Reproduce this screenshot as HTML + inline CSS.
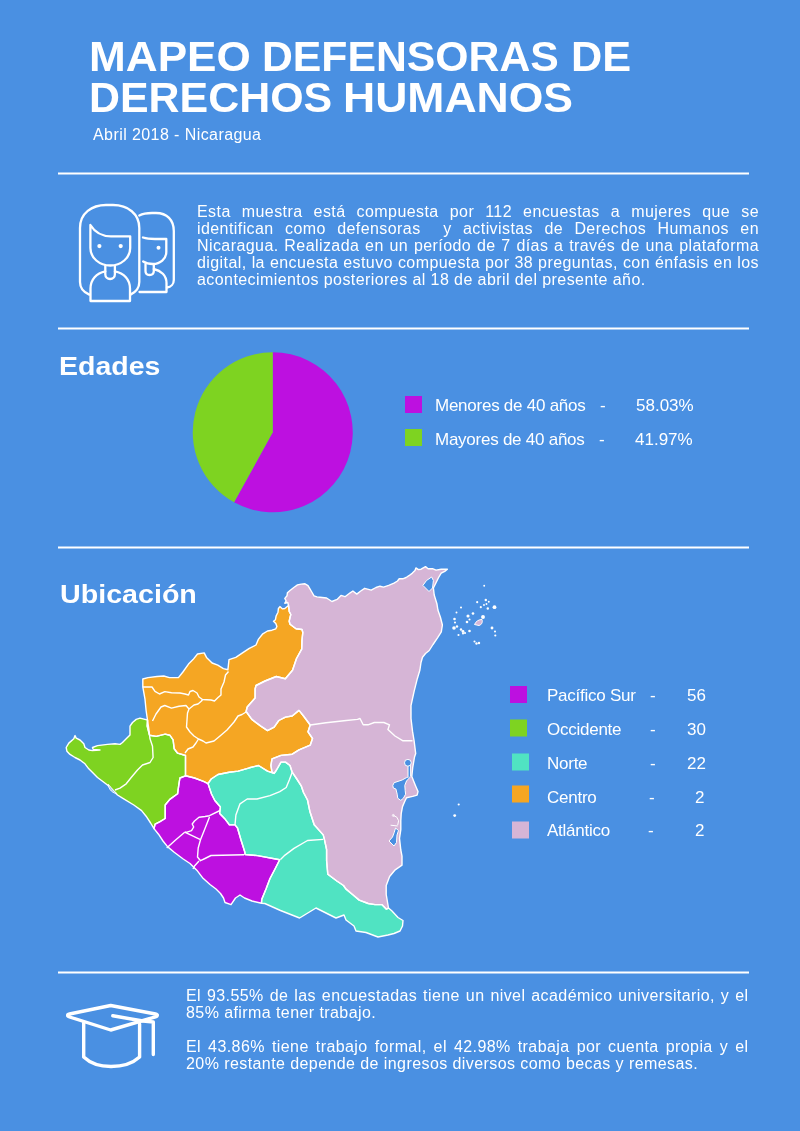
<!DOCTYPE html>
<html><head><meta charset="utf-8">
<style>
html,body{margin:0;padding:0;}
body{width:800px;height:1131px;background:#4A90E2;position:relative;overflow:hidden;font-family:"Liberation Sans",Arial,sans-serif;color:#fff;}
.abs{position:absolute;white-space:nowrap;will-change:transform;}
.title{font-weight:700;font-size:42.5px;line-height:42px;transform-origin:0 0;}
.sub{font-size:16px;letter-spacing:0.42px;}
.h2{font-weight:700;font-size:25.4px;line-height:28px;transform-origin:0 0;}
.para{position:absolute;will-change:transform;font-size:16px;letter-spacing:0.42px;line-height:16.9px;text-align:justify;white-space:normal;}
.lg{font-size:17px;line-height:20px;}
.lt{letter-spacing:-0.25px;}
svg{position:absolute;left:0;top:0;}
</style></head><body>
<svg width="800" height="1131" viewBox="0 0 800 1131">
<g stroke="#fff" stroke-width="2"><line x1="58" y1="173.5" x2="749" y2="173.5"/><line x1="58" y1="328.5" x2="749" y2="328.5"/><line x1="58" y1="547.5" x2="749" y2="547.5"/><line x1="58" y1="972.5" x2="749" y2="972.5"/></g>
<g fill="none" stroke="#fff" stroke-width="2.3" stroke-linecap="round" stroke-linejoin="round">
<path d="M89.3,294.6 C83,292 80,288 80,282 L80,228 C80,213 92,205 106,205 L113,205 C128,205 139.3,214 139.3,228 L139.3,282 C139.3,288 136,292 130.5,294.6"/>
<path d="M90.4,248 L90.4,225 C95,232.5 102,236.3 111,236.3 L130.2,236.3 L130.2,248 C130.2,258 121,265.5 110.3,265.5 C99.5,265.5 90.4,258 90.4,248 Z"/>
<path d="M105.3,266 L105.3,274.3 C105.3,277.3 107.5,279 110.1,279 C112.7,279 114.9,277.3 114.9,274.3 L114.9,266"/>
<path d="M105.3,271.3 C96.5,273 90.5,279.5 90.5,288.5 L90.5,301 L130,301 L130,288.5 C130,279.5 124,273 114.9,271.3"/>
<path d="M139.3,215.5 C143,213.5 147,213 152,213 L156,213 C167,213 173.8,220 173.8,231 L173.8,280 C173.8,284 171,287 167,287.5"/>
<path d="M143,237.5 C146,238.5 150,239 155,239 L166.3,239 L166.3,252 C166.3,259 160,264 153,264 C149,264 145.5,263 143.2,261.5"/>
<path d="M145.5,264.5 L145.5,271 C145.5,273.5 147,275 149.5,275 C152,275 153.8,273.5 153.8,271 L153.8,265"/>
<path d="M153.8,269 C161,270.5 166.5,275.5 166.5,283 L166.5,292 L139.5,292"/>
</g>
<g fill="#fff"><circle cx="99.4" cy="246.1" r="2.1"/><circle cx="120.7" cy="246.1" r="2.1"/><circle cx="158.5" cy="247.7" r="2"/></g>
<path d="M272.75,432.3 L272.75,352.3 A80,80 0 1,1 234.08,502.33 Z" fill="#BD10E0"/>
<path d="M272.75,432.3 L234.08,502.33 A80,80 0 0,1 272.75,352.3 Z" fill="#7ED321"/>
<g fill="#BD10E0"><rect x="405" y="396" width="17" height="17"/><rect x="510" y="686" width="17" height="17"/></g>
<rect x="405" y="429" width="17" height="17" fill="#7ED321"/>
<rect x="510" y="719.5" width="17" height="17" fill="#7ED321"/>
<rect x="512" y="753.5" width="17" height="17" fill="#50E3C2"/>
<rect x="512" y="785.5" width="17" height="17" fill="#F5A623"/>
<rect x="512" y="821.5" width="17" height="17" fill="#D6B5D6"/>
<polygon points="288.5,605.5 287.8,602.5 284.8,603.2 286.2,601.0 284.8,598.4 287.0,595.8 287.4,592.8 290.0,590.5 293.8,587.5 297.5,584.9 301.2,584.1 305.0,583.8 308.0,585.6 309.5,588.2 311.8,592.0 314.0,595.8 317.0,596.9 320.0,597.2 326.6,598.0 331.9,601.5 337.1,599.4 341.0,595.4 345.0,596.7 350.2,592.8 352.9,591.0 356.8,594.1 360.7,591.0 364.7,588.3 371.2,590.2 376.0,587.5 380.0,586.2 383.5,587.1 388.7,585.4 394.0,583.2 397.5,581.0 399.2,578.8 402.7,578.8 406.2,577.5 408.9,575.7 412.4,573.1 415.0,570.5 415.9,567.9 418.5,569.6 421.1,569.2 425.5,566.6 428.1,568.7 432.5,568.7 436.0,570.1 441.2,569.2 447.4,569.2 444.7,571.4 441.2,573.1 438.6,577.5 436.0,582.7 433.4,588.0 434.2,595.0 436.9,603.7 437.9,610.0 440.5,617.5 442.4,625.0 441.3,631.8 437.5,637.8 433.0,644.5 429.2,650.5 425.5,653.5 422.5,657.2 421.0,662.5 419.9,670.0 417.3,678.7 414.1,691.4 411.0,705.7 411.0,718.5 412.5,731.2 414.1,740.8 415.7,753.5 414.5,757.0 412.7,767.7 411.8,776.5 415.4,785.4 418.0,791.6 417.1,795.1 412.7,796.4 406.5,797.7 404.8,801.3 402.5,806.6 401.2,813.7 400.8,820.7 400.8,829.6 399.5,838.4 400.8,850.0 402.0,856.2 402.0,865.2 395.2,869.8 389.6,876.5 386.2,885.5 386.2,894.5 388.5,908.0 386.2,909.1 381.8,904.6 375.0,904.6 368.2,903.5 359.2,900.1 352.5,894.5 345.8,888.9 343.5,885.5 336.8,881.0 327.8,874.2 326.6,860.8 326.6,849.5 324.4,839.4 323.2,834.9 314.2,824.8 309.8,811.2 307.5,800.0 303.5,792.5 301.2,785.8 296.8,779.0 292.2,772.2 290.0,765.5 285.5,762.1 281.0,762.1 276.5,770.0 274.2,773.4 272.0,772.2 270.9,765.5 272.0,758.8 281.0,755.4 292.2,754.2 299.0,749.8 310.2,745.2 312.5,738.5 308.0,731.8 310.2,725.0 303.5,716.0 299.0,710.4 292.2,716.0 285.5,717.1 278.8,720.5 274.2,727.2 267.5,730.6 260.8,726.1 251.8,719.4 246.1,711.5 247.2,707.0 255.1,698.0 255.1,689.0 256.0,685.5 265.0,681.0 276.3,676.5 285.3,678.8 292.5,670.2 296.5,658.5 301.7,649.2 302.0,640.0 302.8,632.5 302.0,629.5 296.0,628.8 293.0,626.5 290.0,624.2 289.2,621.2 290.0,617.5 290.8,614.5 289.2,611.5 288.9,608.5" fill="#D6B5D6"/>
<polygon points="288.5,605.5 288.9,608.5 289.2,611.5 290.8,614.5 290.0,617.5 289.2,621.2 290.0,624.2 293.0,626.5 296.0,628.8 302.0,629.5 302.8,632.5 302.0,640.0 301.7,649.2 296.5,658.5 292.5,670.2 285.3,678.8 276.3,676.5 265.0,681.0 256.0,685.5 255.1,689.0 255.1,698.0 247.2,707.0 246.1,711.5 251.8,719.4 260.8,726.1 267.5,730.6 274.2,727.2 278.8,720.5 285.5,717.1 292.2,716.0 299.0,710.4 303.5,716.0 310.2,725.0 308.0,731.8 312.5,738.5 310.2,745.2 299.0,749.8 292.2,754.2 281.0,755.4 272.0,758.8 270.9,765.5 272.0,772.2 274.2,773.4 267.5,771.1 258.5,765.5 249.5,767.8 238.2,771.1 229.2,772.2 218.0,774.5 211.2,779.0 208.0,783.6 203.5,781.4 194.5,778.0 185.5,775.8 185.5,764.5 185.5,755.5 177.6,753.2 174.2,748.8 173.1,739.8 169.8,735.2 165.2,734.1 156.2,736.4 149.5,735.2 147.2,726.2 147.5,720.0 146.1,710.5 145.0,699.2 142.8,686.9 142.8,679.0 148.0,677.6 157.0,676.5 163.8,676.0 169.4,677.6 178.4,677.6 182.9,672.0 188.5,664.1 193.0,659.6 197.5,654.0 204.2,652.9 206.5,657.4 212.1,663.0 217.8,665.2 223.4,668.6 227.9,669.8 229.0,659.6 235.8,657.4 242.5,652.9 249.3,648.4 256.0,645.0 258.3,639.4 262.8,633.8 267.5,631.0 272.0,630.2 275.8,628.8 276.9,626.5 275.8,623.5 273.5,621.2 275.4,619.8 276.1,616.0 278.0,612.2 278.4,608.5 279.9,606.6 282.5,608.9 284.8,608.5" fill="#F5A623"/>
<polygon points="147.5,720.0 145.0,719.4 140.0,718.1 136.2,719.4 132.5,722.5 130.0,726.2 130.0,731.2 130.0,735.0 126.2,738.8 122.5,742.5 120.0,744.4 115.0,743.8 107.5,744.4 97.5,745.6 92.5,747.5 93.1,749.4 100.0,750.0 92.5,750.6 88.8,750.0 85.0,747.5 83.8,743.8 80.0,740.0 76.2,738.1 75.0,735.6 73.8,738.8 68.8,743.1 66.2,747.5 66.9,751.2 70.0,754.4 75.0,757.5 80.0,760.0 85.0,763.8 88.8,768.8 93.8,773.8 97.5,777.5 102.5,781.2 107.5,785.0 112.5,790.0 117.5,795.0 122.5,798.2 133.8,805.0 141.6,810.6 146.1,816.2 150.6,823.0 154.0,828.6 155.1,824.1 159.6,821.9 165.2,818.5 165.2,811.8 165.2,805.0 169.8,799.4 177.6,793.8 178.8,784.8 179.9,778.0 185.5,775.8 185.5,764.5 185.5,755.5 177.6,753.2 174.2,748.8 173.1,739.8 169.8,735.2 165.2,734.1 156.2,736.4 149.5,735.2 147.2,726.2" fill="#7ED321"/>
<polygon points="154.0,828.6 158.5,834.2 163.0,841.0 167.5,846.6 174.2,852.2 183.2,859.0 190.0,863.5 196.8,870.2 202.5,877.7 210.0,884.5 216.0,889.0 220.5,893.5 223.5,898.0 225.0,902.5 231.0,904.7 235.5,898.0 240.0,895.0 244.5,898.0 252.0,901.0 261.5,903.2 261.7,899.5 266.0,889.0 270.0,878.5 275.0,869.0 279.7,859.7 257.5,855.6 245.1,854.5 244.8,852.0 241.0,840.0 237.5,828.0 235.0,824.9 229.4,824.9 224.5,818.4 219.6,813.5 220.4,807.0 214.8,800.5 211.5,794.0 208.0,783.6 203.5,781.4 194.5,778.0 185.5,775.8 179.9,778.0 178.8,784.8 177.6,793.8 169.8,799.4 165.2,805.0 165.2,811.8 165.2,818.5 159.6,821.9 155.1,824.1" fill="#BD10E0"/>
<polygon points="208.0,783.6 211.2,779.0 218.0,774.5 229.2,772.2 238.2,771.1 249.5,767.8 258.5,765.5 267.5,771.1 274.2,773.4 276.5,770.0 281.0,762.1 285.5,762.1 290.0,765.5 292.2,772.2 296.8,779.0 301.2,785.8 303.5,792.5 307.5,800.0 309.8,811.2 314.2,824.8 323.2,834.9 324.4,839.4 326.6,849.5 326.6,860.8 327.8,874.2 336.8,881.0 343.5,885.5 345.8,888.9 352.5,894.5 359.2,900.1 368.2,903.5 375.0,904.6 381.8,904.6 386.2,909.1 388.5,908.0 392.0,911.0 398.0,917.5 403.0,920.5 402.5,926.0 400.0,931.0 394.0,933.5 388.0,935.0 378.0,937.0 366.0,932.5 356.0,931.0 354.0,926.0 346.0,920.0 344.0,915.0 336.0,918.0 322.0,911.0 316.0,908.0 299.6,918.0 280.5,910.5 264.8,903.5 261.5,903.2 261.7,899.5 266.0,889.0 270.0,878.5 275.0,869.0 279.7,859.7 257.5,855.6 245.1,854.5 244.8,852.0 241.0,840.0 237.5,828.0 235.0,824.9 229.4,824.9 224.5,818.4 219.6,813.5 220.4,807.0 214.8,800.5 211.5,794.0" fill="#50E3C2"/>
<polygon points="288.5,605.5 287.8,602.5 284.8,603.2 286.2,601.0 284.8,598.4 287.0,595.8 287.4,592.8 290.0,590.5 293.8,587.5 297.5,584.9 301.2,584.1 305.0,583.8 308.0,585.6 309.5,588.2 311.8,592.0 314.0,595.8 317.0,596.9 320.0,597.2 326.6,598.0 331.9,601.5 337.1,599.4 341.0,595.4 345.0,596.7 350.2,592.8 352.9,591.0 356.8,594.1 360.7,591.0 364.7,588.3 371.2,590.2 376.0,587.5 380.0,586.2 383.5,587.1 388.7,585.4 394.0,583.2 397.5,581.0 399.2,578.8 402.7,578.8 406.2,577.5 408.9,575.7 412.4,573.1 415.0,570.5 415.9,567.9 418.5,569.6 421.1,569.2 425.5,566.6 428.1,568.7 432.5,568.7 436.0,570.1 441.2,569.2 447.4,569.2 444.7,571.4 441.2,573.1 438.6,577.5 436.0,582.7 433.4,588.0 434.2,595.0 436.9,603.7 437.9,610.0 440.5,617.5 442.4,625.0 441.3,631.8 437.5,637.8 433.0,644.5 429.2,650.5 425.5,653.5 422.5,657.2 421.0,662.5 419.9,670.0 417.3,678.7 414.1,691.4 411.0,705.7 411.0,718.5 412.5,731.2 414.1,740.8 415.7,753.5 414.5,757.0 412.7,767.7 411.8,776.5 415.4,785.4 418.0,791.6 417.1,795.1 412.7,796.4 406.5,797.7 404.8,801.3 402.5,806.6 401.2,813.7 400.8,820.7 400.8,829.6 399.5,838.4 400.8,850.0 402.0,856.2 402.0,865.2 395.2,869.8 389.6,876.5 386.2,885.5 386.2,894.5 388.5,908.0 386.2,909.1 381.8,904.6 375.0,904.6 368.2,903.5 359.2,900.1 352.5,894.5 345.8,888.9 343.5,885.5 336.8,881.0 327.8,874.2 326.6,860.8 326.6,849.5 324.4,839.4 323.2,834.9 314.2,824.8 309.8,811.2 307.5,800.0 303.5,792.5 301.2,785.8 296.8,779.0 292.2,772.2 290.0,765.5 285.5,762.1 281.0,762.1 276.5,770.0 274.2,773.4 272.0,772.2 270.9,765.5 272.0,758.8 281.0,755.4 292.2,754.2 299.0,749.8 310.2,745.2 312.5,738.5 308.0,731.8 310.2,725.0 303.5,716.0 299.0,710.4 292.2,716.0 285.5,717.1 278.8,720.5 274.2,727.2 267.5,730.6 260.8,726.1 251.8,719.4 246.1,711.5 247.2,707.0 255.1,698.0 255.1,689.0 256.0,685.5 265.0,681.0 276.3,676.5 285.3,678.8 292.5,670.2 296.5,658.5 301.7,649.2 302.0,640.0 302.8,632.5 302.0,629.5 296.0,628.8 293.0,626.5 290.0,624.2 289.2,621.2 290.0,617.5 290.8,614.5 289.2,611.5 288.9,608.5" fill="none" stroke="#fff" stroke-width="1.4" stroke-linejoin="round"/>
<polygon points="288.5,605.5 288.9,608.5 289.2,611.5 290.8,614.5 290.0,617.5 289.2,621.2 290.0,624.2 293.0,626.5 296.0,628.8 302.0,629.5 302.8,632.5 302.0,640.0 301.7,649.2 296.5,658.5 292.5,670.2 285.3,678.8 276.3,676.5 265.0,681.0 256.0,685.5 255.1,689.0 255.1,698.0 247.2,707.0 246.1,711.5 251.8,719.4 260.8,726.1 267.5,730.6 274.2,727.2 278.8,720.5 285.5,717.1 292.2,716.0 299.0,710.4 303.5,716.0 310.2,725.0 308.0,731.8 312.5,738.5 310.2,745.2 299.0,749.8 292.2,754.2 281.0,755.4 272.0,758.8 270.9,765.5 272.0,772.2 274.2,773.4 267.5,771.1 258.5,765.5 249.5,767.8 238.2,771.1 229.2,772.2 218.0,774.5 211.2,779.0 208.0,783.6 203.5,781.4 194.5,778.0 185.5,775.8 185.5,764.5 185.5,755.5 177.6,753.2 174.2,748.8 173.1,739.8 169.8,735.2 165.2,734.1 156.2,736.4 149.5,735.2 147.2,726.2 147.5,720.0 146.1,710.5 145.0,699.2 142.8,686.9 142.8,679.0 148.0,677.6 157.0,676.5 163.8,676.0 169.4,677.6 178.4,677.6 182.9,672.0 188.5,664.1 193.0,659.6 197.5,654.0 204.2,652.9 206.5,657.4 212.1,663.0 217.8,665.2 223.4,668.6 227.9,669.8 229.0,659.6 235.8,657.4 242.5,652.9 249.3,648.4 256.0,645.0 258.3,639.4 262.8,633.8 267.5,631.0 272.0,630.2 275.8,628.8 276.9,626.5 275.8,623.5 273.5,621.2 275.4,619.8 276.1,616.0 278.0,612.2 278.4,608.5 279.9,606.6 282.5,608.9 284.8,608.5" fill="none" stroke="#fff" stroke-width="1.4" stroke-linejoin="round"/>
<polygon points="147.5,720.0 145.0,719.4 140.0,718.1 136.2,719.4 132.5,722.5 130.0,726.2 130.0,731.2 130.0,735.0 126.2,738.8 122.5,742.5 120.0,744.4 115.0,743.8 107.5,744.4 97.5,745.6 92.5,747.5 93.1,749.4 100.0,750.0 92.5,750.6 88.8,750.0 85.0,747.5 83.8,743.8 80.0,740.0 76.2,738.1 75.0,735.6 73.8,738.8 68.8,743.1 66.2,747.5 66.9,751.2 70.0,754.4 75.0,757.5 80.0,760.0 85.0,763.8 88.8,768.8 93.8,773.8 97.5,777.5 102.5,781.2 107.5,785.0 112.5,790.0 117.5,795.0 122.5,798.2 133.8,805.0 141.6,810.6 146.1,816.2 150.6,823.0 154.0,828.6 155.1,824.1 159.6,821.9 165.2,818.5 165.2,811.8 165.2,805.0 169.8,799.4 177.6,793.8 178.8,784.8 179.9,778.0 185.5,775.8 185.5,764.5 185.5,755.5 177.6,753.2 174.2,748.8 173.1,739.8 169.8,735.2 165.2,734.1 156.2,736.4 149.5,735.2 147.2,726.2" fill="none" stroke="#fff" stroke-width="1.4" stroke-linejoin="round"/>
<polygon points="154.0,828.6 158.5,834.2 163.0,841.0 167.5,846.6 174.2,852.2 183.2,859.0 190.0,863.5 196.8,870.2 202.5,877.7 210.0,884.5 216.0,889.0 220.5,893.5 223.5,898.0 225.0,902.5 231.0,904.7 235.5,898.0 240.0,895.0 244.5,898.0 252.0,901.0 261.5,903.2 261.7,899.5 266.0,889.0 270.0,878.5 275.0,869.0 279.7,859.7 257.5,855.6 245.1,854.5 244.8,852.0 241.0,840.0 237.5,828.0 235.0,824.9 229.4,824.9 224.5,818.4 219.6,813.5 220.4,807.0 214.8,800.5 211.5,794.0 208.0,783.6 203.5,781.4 194.5,778.0 185.5,775.8 179.9,778.0 178.8,784.8 177.6,793.8 169.8,799.4 165.2,805.0 165.2,811.8 165.2,818.5 159.6,821.9 155.1,824.1" fill="none" stroke="#fff" stroke-width="1.4" stroke-linejoin="round"/>
<polygon points="208.0,783.6 211.2,779.0 218.0,774.5 229.2,772.2 238.2,771.1 249.5,767.8 258.5,765.5 267.5,771.1 274.2,773.4 276.5,770.0 281.0,762.1 285.5,762.1 290.0,765.5 292.2,772.2 296.8,779.0 301.2,785.8 303.5,792.5 307.5,800.0 309.8,811.2 314.2,824.8 323.2,834.9 324.4,839.4 326.6,849.5 326.6,860.8 327.8,874.2 336.8,881.0 343.5,885.5 345.8,888.9 352.5,894.5 359.2,900.1 368.2,903.5 375.0,904.6 381.8,904.6 386.2,909.1 388.5,908.0 392.0,911.0 398.0,917.5 403.0,920.5 402.5,926.0 400.0,931.0 394.0,933.5 388.0,935.0 378.0,937.0 366.0,932.5 356.0,931.0 354.0,926.0 346.0,920.0 344.0,915.0 336.0,918.0 322.0,911.0 316.0,908.0 299.6,918.0 280.5,910.5 264.8,903.5 261.5,903.2 261.7,899.5 266.0,889.0 270.0,878.5 275.0,869.0 279.7,859.7 257.5,855.6 245.1,854.5 244.8,852.0 241.0,840.0 237.5,828.0 235.0,824.9 229.4,824.9 224.5,818.4 219.6,813.5 220.4,807.0 214.8,800.5 211.5,794.0" fill="none" stroke="#fff" stroke-width="1.4" stroke-linejoin="round"/>
<polyline points="142.8,687.0 152.0,687.0 155.0,691.3 159.5,694.0 164.8,691.6 171.5,692.8 180.0,693.0 185.0,694.0 188.5,695.0 190.0,691.5 193.0,690.5 197.0,693.0 199.0,697.0 202.5,699.5 211.0,700.0 214.5,701.0 218.0,697.5 221.0,695.0 221.0,689.0 224.0,682.0 225.5,675.0 228.5,671.5" fill="none" stroke="#fff" stroke-width="1.4" stroke-linejoin="round" stroke-linecap="butt"/>
<polyline points="202.5,699.5 201.5,701.0 198.0,704.0 194.0,705.0 189.0,709.0 187.5,713.0 187.0,720.0 186.5,727.0 190.0,732.0 194.0,736.0 198.5,739.0 203.0,741.0 206.0,743.0 210.0,742.0 214.0,741.0 220.0,736.0 227.0,730.0 234.0,722.0 238.0,716.0 242.0,714.5 246.1,712.0" fill="none" stroke="#fff" stroke-width="1.4" stroke-linejoin="round" stroke-linecap="butt"/>
<polyline points="198.5,739.0 196.0,743.0 193.0,747.0 188.0,749.0 185.0,753.0" fill="none" stroke="#fff" stroke-width="1.4" stroke-linejoin="round" stroke-linecap="butt"/>
<polyline points="152.5,721.0 156.0,714.0 161.0,707.0 164.8,705.5 171.5,708.1 179.0,706.2 186.0,705.5 189.0,709.0" fill="none" stroke="#fff" stroke-width="1.4" stroke-linejoin="round" stroke-linecap="butt"/>
<polyline points="147.5,720.0 148.8,728.8 150.0,738.8 152.5,746.2 153.1,757.5 150.0,762.5 142.5,765.0 137.5,770.0 131.2,777.5 126.2,783.8 120.0,788.1 115.0,790.0" fill="none" stroke="#fff" stroke-width="1.4" stroke-linejoin="round" stroke-linecap="butt"/>
<polyline points="220.0,810.5 209.5,815.7 205.0,816.5 199.0,817.2 194.5,821.0 192.2,824.0 193.7,827.0 191.5,830.7 187.0,832.2 184.7,832.2" fill="none" stroke="#fff" stroke-width="1.4" stroke-linejoin="round" stroke-linecap="butt"/>
<polyline points="184.7,832.2 175.0,840.5 166.7,848.0" fill="none" stroke="#fff" stroke-width="1.4" stroke-linejoin="round" stroke-linecap="butt"/>
<polyline points="184.7,832.2 200.5,839.7" fill="none" stroke="#fff" stroke-width="1.4" stroke-linejoin="round" stroke-linecap="butt"/>
<polyline points="209.5,817.0 205.0,828.5 200.5,839.7 198.2,848.0 197.5,857.0 200.5,860.7 205.0,858.5 211.0,855.5 244.0,854.7" fill="none" stroke="#fff" stroke-width="1.4" stroke-linejoin="round" stroke-linecap="butt"/>
<polyline points="199.0,861.0 194.5,866.0 193.0,869.0" fill="none" stroke="#fff" stroke-width="1.4" stroke-linejoin="round" stroke-linecap="butt"/>
<polyline points="292.2,772.2 289.5,779.4 286.2,787.5 279.8,791.6 270.0,795.6 257.0,799.0 247.2,799.0 240.0,803.8 235.9,815.0 235.0,824.9" fill="none" stroke="#fff" stroke-width="1.4" stroke-linejoin="round" stroke-linecap="butt"/>
<polyline points="280.5,859.6 285.0,855.1 294.0,848.4 307.5,840.5 323.2,839.4" fill="none" stroke="#fff" stroke-width="1.4" stroke-linejoin="round" stroke-linecap="butt"/>
<polyline points="310.2,725.0 326.0,722.8 346.2,720.5 357.5,719.4 360.0,718.5 363.2,724.8 368.0,724.8 374.3,722.5 383.9,722.5 389.5,724.8 387.9,729.6 395.0,736.0 403.0,740.8 412.5,740.8" fill="none" stroke="#fff" stroke-width="1.4" stroke-linejoin="round" stroke-linecap="butt"/>
<polygon points="431.6,577.0 433.4,580.5 432.5,588.0 429.0,591.5 422.9,585.4 426.5,580.5" fill="#4A90E2" stroke="#fff" stroke-width="1" stroke-linejoin="round"/>
<polygon points="409.5,776.5 406.5,777.6 402.1,780.0 394.1,782.7 392.8,785.4 393.3,788.0 395.9,789.0 397.2,794.2 397.7,798.2 400.8,800.4 403.4,798.2 405.6,794.2 405.2,790.7 404.8,785.4 406.5,781.0 409.8,777.5" fill="#4A90E2" stroke="#fff" stroke-width="1" stroke-linejoin="round"/>
<polygon points="395.5,828.0 398.5,830.5 397.0,835.0 396.5,842.5 394.0,846.0 389.0,841.0 392.5,837.0 394.2,832.5" fill="#4A90E2" stroke="#fff" stroke-width="1" stroke-linejoin="round"/>
<circle cx="484.2" cy="585.8" r="0.96" fill="#fff"/>
<circle cx="485.8" cy="600" r="1.20" fill="#fff"/>
<circle cx="488.8" cy="601.8" r="0.96" fill="#fff"/>
<circle cx="486.5" cy="604" r="0.96" fill="#fff"/>
<circle cx="484" cy="605" r="0.96" fill="#fff"/>
<circle cx="480.8" cy="607.2" r="1.08" fill="#fff"/>
<circle cx="487.8" cy="608.5" r="1.20" fill="#fff"/>
<circle cx="477.2" cy="602.2" r="1.08" fill="#fff"/>
<circle cx="494.5" cy="607.2" r="1.92" fill="#fff"/>
<circle cx="461" cy="607.5" r="1.08" fill="#fff"/>
<circle cx="456.5" cy="612.5" r="0.96" fill="#fff"/>
<circle cx="473" cy="613.5" r="1.32" fill="#fff"/>
<circle cx="468" cy="616" r="1.56" fill="#fff"/>
<circle cx="469.5" cy="619.5" r="1.08" fill="#fff"/>
<circle cx="467" cy="622" r="1.32" fill="#fff"/>
<circle cx="483" cy="617" r="1.92" fill="#fff"/>
<circle cx="454.5" cy="619" r="1.32" fill="#fff"/>
<circle cx="455" cy="622.5" r="1.08" fill="#fff"/>
<circle cx="454" cy="628" r="1.80" fill="#fff"/>
<circle cx="457" cy="626.5" r="1.20" fill="#fff"/>
<circle cx="461" cy="629.5" r="1.20" fill="#fff"/>
<circle cx="463" cy="631.5" r="1.44" fill="#fff"/>
<circle cx="465" cy="633" r="1.08" fill="#fff"/>
<circle cx="458.5" cy="635" r="1.08" fill="#fff"/>
<circle cx="463" cy="633.5" r="1.08" fill="#fff"/>
<circle cx="469.5" cy="631" r="1.32" fill="#fff"/>
<circle cx="492" cy="628" r="1.44" fill="#fff"/>
<circle cx="495" cy="631.5" r="1.08" fill="#fff"/>
<circle cx="495.3" cy="635.5" r="1.08" fill="#fff"/>
<circle cx="474.5" cy="641.5" r="1.08" fill="#fff"/>
<circle cx="476.5" cy="643.5" r="1.20" fill="#fff"/>
<circle cx="479" cy="643" r="1.20" fill="#fff"/>
<circle cx="458.7" cy="804.5" r="1.08" fill="#fff"/>
<circle cx="454.7" cy="815.6" r="1.44" fill="#fff"/>
<path d="M108.3,784.3 C110,786 112,789 115.5,792.3 L116.5,793.3 C114,793.5 111.5,791.5 110,789.5 C109,788 108.5,786.5 108.3,784.3 Z" fill="#a8c8ee" stroke="#fff" stroke-width="0.9"/>
<polyline points="409.3,765 409.3,776.5" stroke="#fff" stroke-width="3.6" fill="none"/><polyline points="409.3,765 409.3,776.8" stroke="#4A90E2" stroke-width="1.6" fill="none"/>
<circle cx="407.9" cy="762.8" r="3.4" fill="#4A90E2" stroke="#fff" stroke-width="1"/>
<polyline points="390.6,825.2 397.7,826" stroke="#fff" stroke-width="1" fill="none"/><polyline points="393.3,815.4 396.8,817.2 398.6,820.7 397.7,825.2" stroke="#fff" stroke-width="1" fill="none"/><circle cx="393.3" cy="815.4" r="1" fill="none" stroke="#fff" stroke-width="0.8"/>
<path d="M474.5,624.5 C476,621 479,619.5 482,619.5 C483,622 481.5,625 479,625.5 Z" fill="#D6B5D6" stroke="#fff" stroke-width="1"/>
<g fill="none" stroke="#fff" stroke-width="3.4" stroke-linecap="round" stroke-linejoin="round">
<path d="M110.7,1005.5 L155.5,1014 C158,1014.6 158,1016 155.5,1016.8 L110.7,1030 L69.5,1017 C67,1016.2 67,1014.5 69.5,1014 Z"/>
<path d="M112.8,1015.8 L143,1021 L153.3,1022 L153.3,1054.5"/>
<path d="M83.7,1023 L83.7,1057 C90,1063 100,1066.5 111,1066.5 C122,1066.5 133,1063 139.6,1057 L139.6,1024"/>
</g>
</svg>
<div class="abs title" style="left:88.88px;top:36px;transform:scaleX(1.0384)">MAPEO</div>
<div class="abs title" style="left:262.48px;top:36px;transform:scaleX(1.0055)">DEFENSORAS</div>
<div class="abs title" style="left:570.95px;top:36px;transform:scaleX(1.0182)">DE</div>
<div class="abs title" style="left:88.97px;top:77px;transform:scaleX(1.0097)">DERECHOS</div>
<div class="abs title" style="left:343.11px;top:77px;transform:scaleX(1.0477)">HUMANOS</div>

<div class="abs sub" style="left:93px;top:126px">Abril 2018 - Nicaragua</div>
<div class="para" style="left:197px;top:204px;width:562px">Esta muestra está compuesta por 112 encuestas a mujeres que se identifican como defensoras&nbsp; y activistas de Derechos Humanos en Nicaragua. Realizada en un período de 7 días a través de una plataforma digital, la encuesta estuvo compuesta por 38 preguntas, con énfasis en los acontecimientos posteriores al 18 de abril del presente año.</div>
<div class="abs h2" style="left:59px;top:351.8px;transform:scaleX(1.122)">Edades</div>
<div class="abs h2" style="left:60px;top:579.9px;transform:scaleX(1.128)">Ubicación</div>
<div class="abs lg lt" style="left:434.8px;top:395.7px">Menores de 40 años</div>
<div class="abs lg" style="left:600px;top:395.7px">-</div>
<div class="abs lg" style="right:106.0px;top:395.7px">58.03%</div>
<div class="abs lg lt" style="left:434.8px;top:429.5px">Mayores de 40 años</div>
<div class="abs lg" style="left:599px;top:429.5px">-</div>
<div class="abs lg" style="right:107.5px;top:429.5px">41.97%</div>
<div class="abs lg lt" style="left:547px;top:686.2px">Pacífico Sur</div>
<div class="abs lg" style="left:650.4px;top:686.2px">-</div>
<div class="abs lg" style="right:94.0px;top:686.2px">56</div>
<div class="abs lg lt" style="left:547px;top:719.9px">Occidente</div>
<div class="abs lg" style="left:650px;top:719.9px">-</div>
<div class="abs lg" style="right:94.0px;top:719.9px">30</div>
<div class="abs lg lt" style="left:547px;top:753.8px">Norte</div>
<div class="abs lg" style="left:650px;top:753.8px">-</div>
<div class="abs lg" style="right:94.0px;top:753.8px">22</div>
<div class="abs lg lt" style="left:547px;top:787.6px">Centro</div>
<div class="abs lg" style="left:648.8px;top:787.6px">-</div>
<div class="abs lg" style="right:95.7px;top:787.6px">2</div>
<div class="abs lg lt" style="left:547px;top:821.3px">Atlántico</div>
<div class="abs lg" style="left:648px;top:821.3px">-</div>
<div class="abs lg" style="right:95.7px;top:821.3px">2</div>
<div class="para" style="left:185.5px;top:988px;width:562.5px">El 93.55% de las encuestadas tiene un nivel académico universitario, y el 85% afirma tener trabajo.<br><br>El 43.86% tiene trabajo formal, el 42.98% trabaja por cuenta propia y el 20% restante depende de ingresos diversos como becas y remesas.</div>
</body></html>
